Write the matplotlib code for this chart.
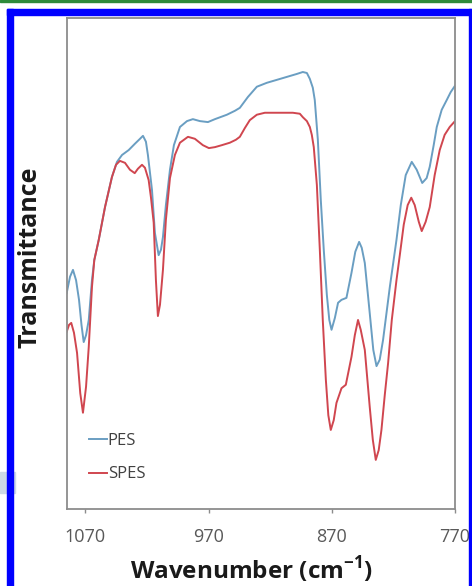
import matplotlib
matplotlib.use("Agg")
import matplotlib.pyplot as plt
from matplotlib.patches import Rectangle

# FTIR spectra (wavenumber in cm-1, transmittance in arbitrary units)
pes_wn = [1085.1, 1082.4, 1080.0, 1077.5, 1075.1, 1073.1, 1071.3, 1069.4, 1067.2, 1064.6,
          1062.7, 1059.1, 1054.0, 1048.4, 1044.3, 1040.2, 1034.8, 1029.7, 1025.6, 1023.2,
          1020.8, 1019.2, 1015.9, 1013.5, 1010.5, 1008.6, 1007.0, 1004.6, 1001.3, 998.1,
          993.2, 987.5, 982.7, 977.0, 970.5, 964.8, 955.1, 948.6, 944.6, 938.1,
          930.8, 922.7, 914.6, 906.5, 898.4, 893.5, 890.2, 887.8, 885.4, 883.8,
          881.3, 878.9, 876.5, 874.0, 872.0, 870.2, 867.5, 864.9, 862.1, 858.1,
          854.0, 850.9, 847.8, 845.7, 843.2, 839.2, 836.3, 833.7, 831.1, 828.4,
          822.9, 817.5, 814.0, 810.0, 805.1, 801.1, 796.6, 793.0, 790.5, 787.3,
          784.8, 780.8, 776.7, 773.5, 770.0]
pes_t = [44.0, 47.3, 48.7, 46.6, 42.6, 37.5, 34.0, 35.4, 38.5, 46.6,
         50.7, 54.8, 61.5, 67.6, 70.7, 72.1, 73.1, 74.4, 75.4, 76.0,
         74.8, 72.1, 65.0, 56.2, 51.7, 52.8, 55.4, 61.9, 69.1, 74.1,
         77.8, 79.0, 79.4, 79.0, 78.8, 79.4, 80.3, 81.1, 81.7, 83.9,
         86.0, 86.8, 87.4, 88.0, 88.6, 89.0, 88.8, 87.6, 85.8, 83.3,
         75.2, 62.9, 52.8, 43.6, 38.5, 36.5, 38.9, 42.0, 42.6, 43.0,
         48.1, 52.4, 54.4, 53.2, 50.1, 39.9, 32.4, 29.1, 30.4, 34.4,
         45.2, 54.8, 61.9, 68.0, 70.7, 69.1, 66.4, 67.4, 69.7, 74.1,
         77.8, 81.3, 83.3, 84.9, 86.2]

spes_wn = [1085.1, 1083.2, 1081.4, 1079.2, 1076.7, 1074.1, 1071.9, 1069.4, 1067.2, 1064.6,
           1062.7, 1059.1, 1054.0, 1048.4, 1045.1, 1041.9, 1037.8, 1033.8, 1029.9, 1027.3,
           1024.0, 1021.6, 1018.6, 1016.7, 1014.5, 1012.7, 1011.1, 1009.4, 1007.0, 1004.6,
           1001.3, 997.3, 993.2, 986.7, 981.1, 974.6, 969.7, 964.8, 959.2, 952.7,
           947.8, 944.6, 940.5, 936.5, 930.8, 924.3, 914.6, 901.6, 895.9, 893.5,
           890.2, 887.8, 886.2, 884.6, 882.1, 879.7, 877.3, 874.8, 872.8, 870.8,
           868.4, 866.2, 862.1, 858.6, 854.0, 851.3, 848.7, 846.5, 843.2, 839.2,
           836.7, 834.3, 831.9, 829.7, 827.0, 824.3, 821.3, 817.5, 814.8, 811.6,
           808.4, 805.5, 802.7, 799.4, 797.0, 793.8, 790.5, 786.5, 782.4, 778.4,
           774.3, 770.0]
spes_t = [36.1, 37.5, 37.9, 35.9, 31.8, 23.6, 19.6, 24.9, 33.0, 45.2,
          50.7, 54.8, 61.5, 67.6, 70.1, 70.9, 70.5, 69.1, 68.4, 69.3,
          70.1, 69.5, 67.0, 63.4, 58.3, 46.6, 39.3, 41.6, 48.7, 58.9,
          67.4, 72.1, 74.6, 75.8, 75.4, 74.1, 73.5, 73.7, 74.1, 74.6,
          75.2, 75.8, 77.6, 79.2, 80.3, 80.7, 80.7, 80.7, 80.5, 79.8,
          79.0, 77.8, 76.2, 73.7, 66.0, 52.8, 38.5, 26.3, 19.1, 16.1,
          18.1, 21.6, 24.6, 25.3, 31.0, 35.4, 38.5, 36.5, 32.4, 20.8,
          14.1, 10.0, 12.0, 16.1, 23.2, 29.7, 38.5, 46.6, 51.7, 57.9,
          61.9, 63.4, 61.9, 58.5, 56.6, 58.5, 61.5, 68.0, 73.1, 76.2,
          77.8, 79.0]

x_ticks = [1070, 970, 870, 770]

plt.rcParams['font.family'] = ['Open Sans', 'DejaVu Sans']

W, H = 472, 586
fig = plt.figure(figsize=(W / 100, H / 100), dpi=100)

# page decoration: green rule on top, blue frame left/top/right, pale block at left
fig.patches.append(Rectangle((0, 1 - 1.5 / H), 1, 1.5 / H, transform=fig.transFigure,
                             color='#2e8b3a', zorder=0))
fig.patches.append(Rectangle((0, (H - 493) / H), 15 / W, 21 / H, transform=fig.transFigure,
                             color='#cdd9e5', zorder=0))
fig.patches.append(Rectangle((7 / W, 0), 5.5 / W, 1 - 9 / H, transform=fig.transFigure,
                             color='#0000ff', zorder=1))
fig.patches.append(Rectangle((7 / W, 1 - 15 / H), 465 / W, 6 / H, transform=fig.transFigure,
                             color='#0000ff', zorder=1))
fig.patches.append(Rectangle((469 / W, 0), 2 / W, 1 - 9 / H, transform=fig.transFigure,
                             color='#0000ff', zorder=1))

ax = fig.add_axes([0.1413, 0.1314, 0.8227, 0.8379])
ax.plot(pes_wn, pes_t, color='#6a9ec2', lw=1.4, label='PES', solid_joinstyle='round')
ax.plot(spes_wn, spes_t, color='#d0464f', lw=1.4, label='SPES', solid_joinstyle='round')

ax.set_xlim(1085.1, 770)
ax.set_ylim(0, 100)
ax.set_xticks(x_ticks)
ax.set_yticks([])
for s in ax.spines.values():
    s.set_color('#8c8c8c')
    s.set_linewidth(1.3)
ax.tick_params(axis='x', colors='#8c8c8c', length=3, width=1, pad=11,
               labelsize=13, labelcolor='#595959')

ax.set_xlabel('Wavenumber (cm$^{\\mathregular{-1}}$)', fontsize=17.5, fontweight='bold',
              color='#1a1a1a')
ax.xaxis.set_label_coords(0.477, -0.091)
ax.set_ylabel('Transmittance', fontsize=18, fontweight='bold', color='#1a1a1a')
ax.yaxis.set_label_coords(-0.062, 0.512)

ax.legend(loc='lower left', bbox_to_anchor=(0.035, 0.037), frameon=False,
          handlelength=1.1, handletextpad=0.05, labelspacing=1.05, fontsize=12,
          labelcolor='#404040', borderpad=0)

fig.savefig('out.png', dpi=100)
